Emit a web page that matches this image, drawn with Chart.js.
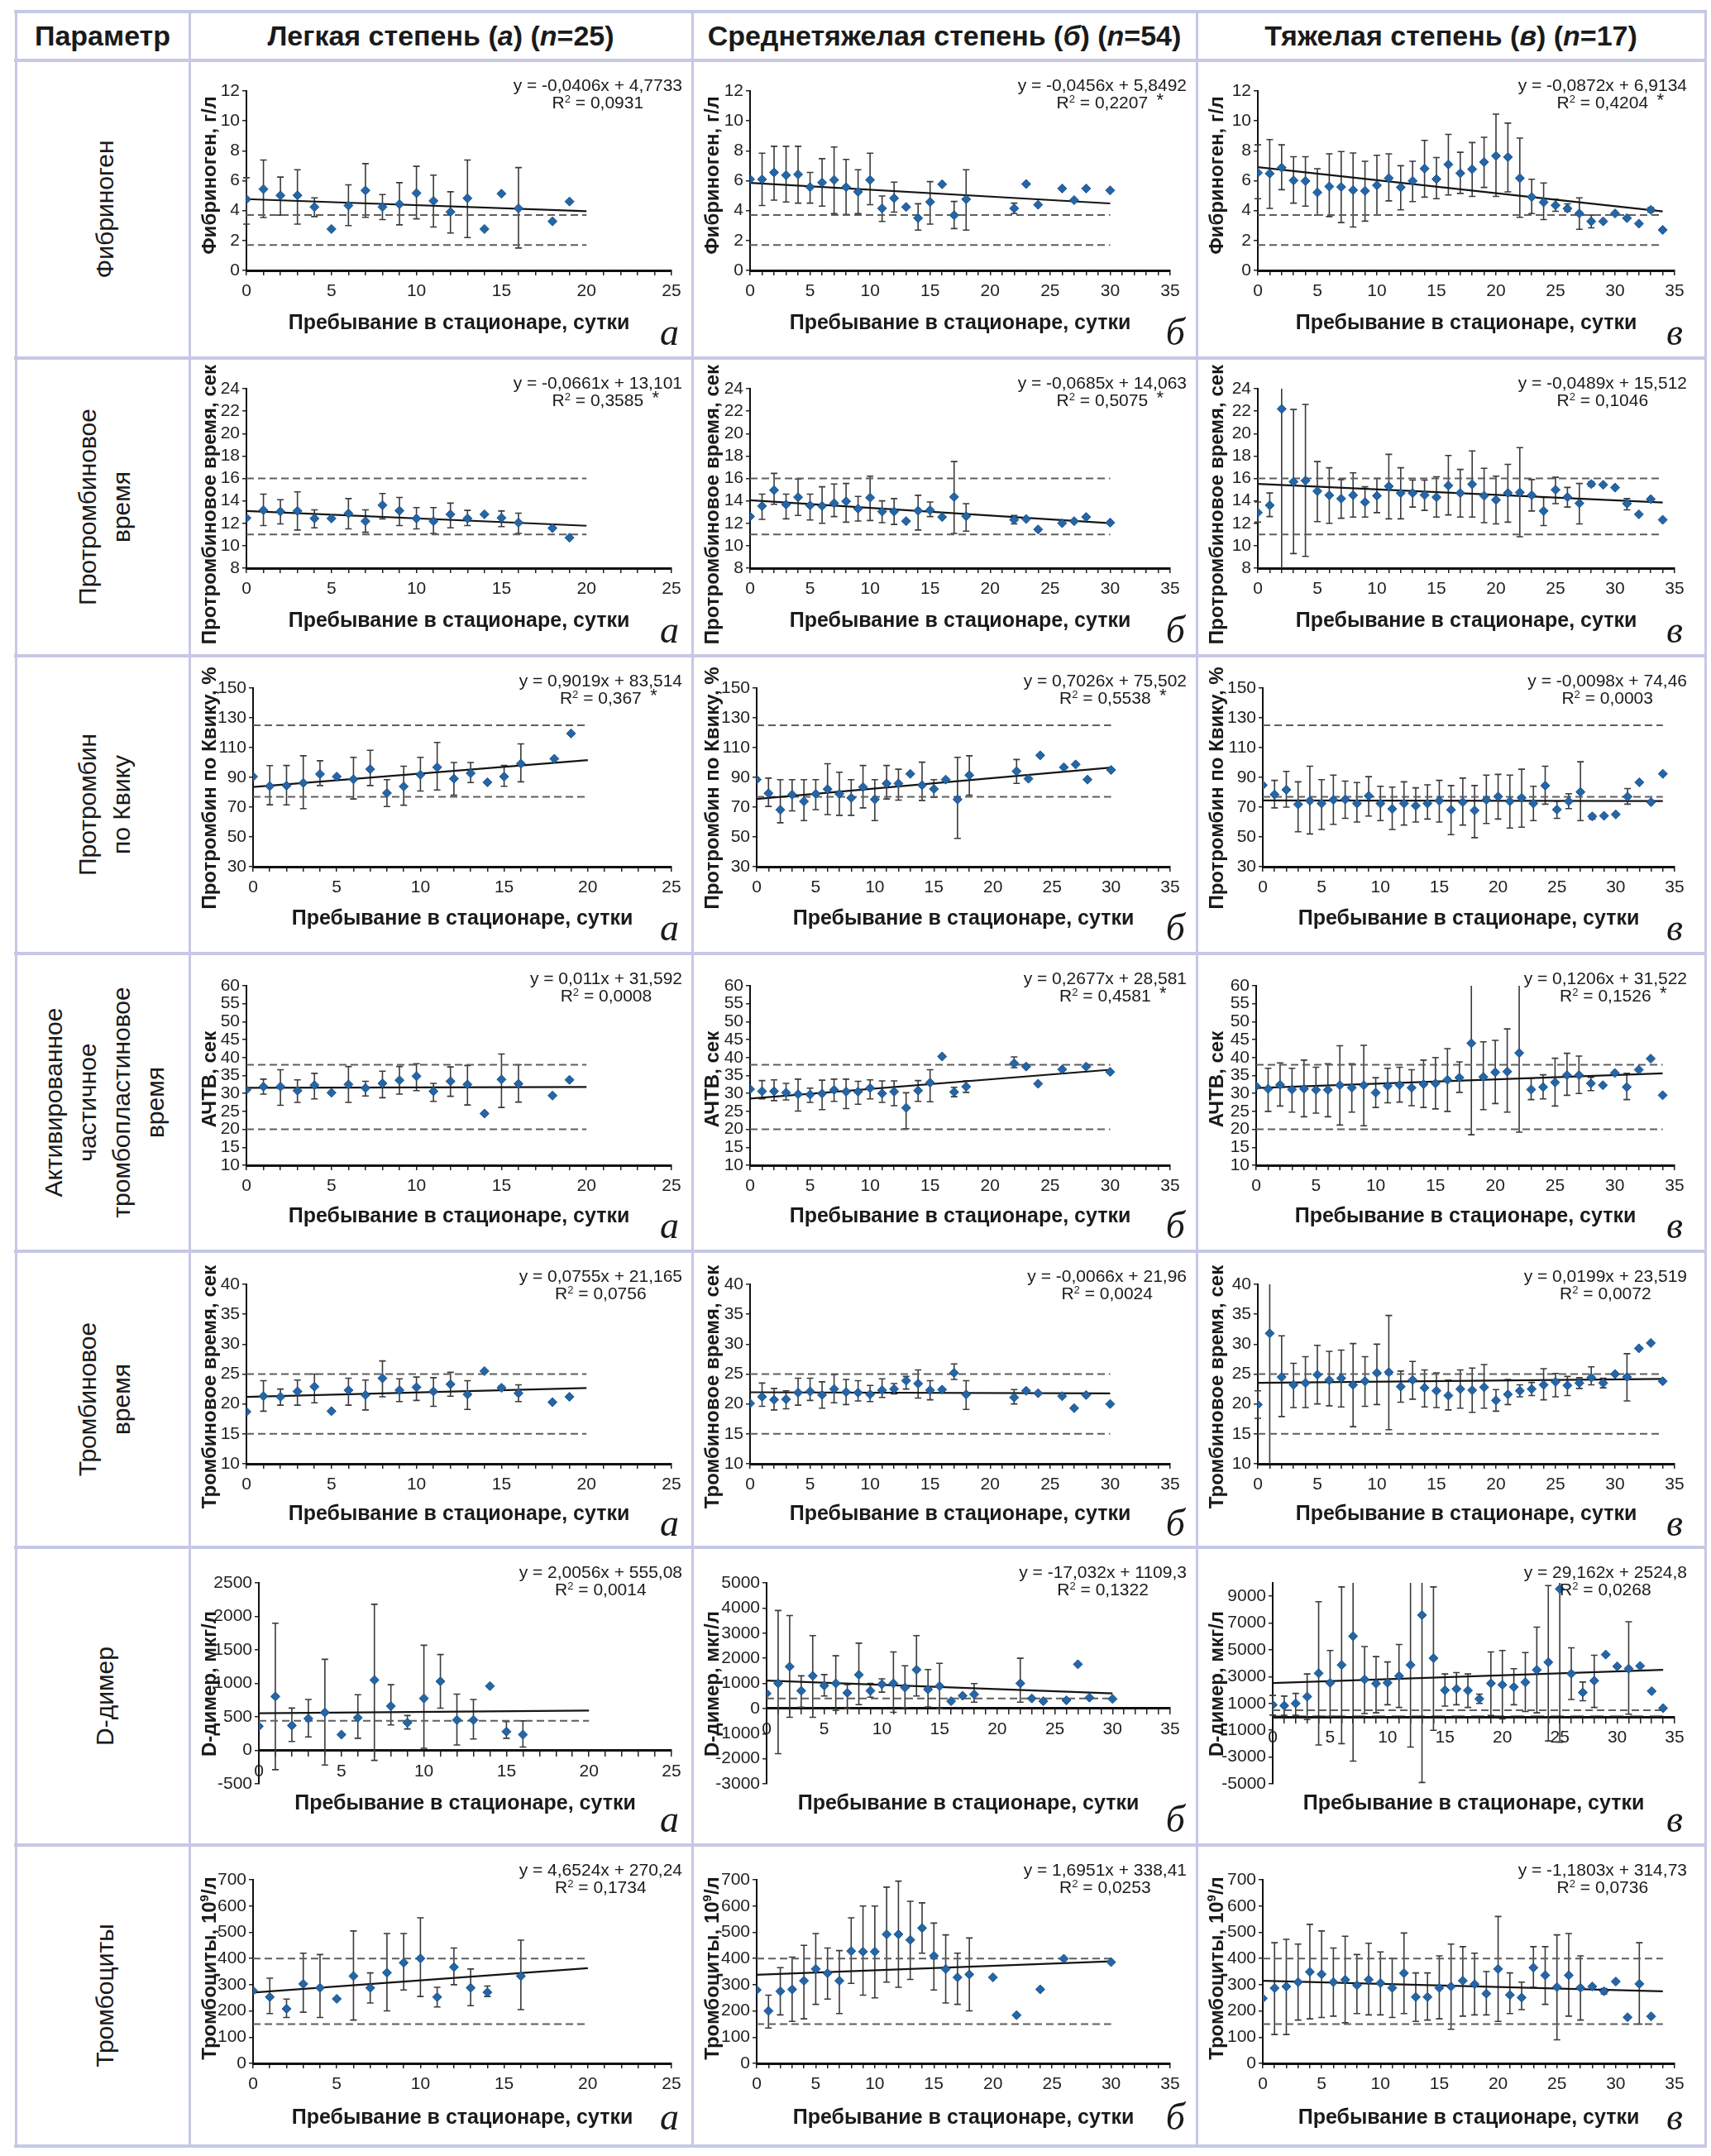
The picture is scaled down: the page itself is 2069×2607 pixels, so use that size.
<!DOCTYPE html>
<html lang="ru">
<head>
<meta charset="utf-8">
<title>Показатели гемостаза</title>
<script src="https://cdn.jsdelivr.net/npm/chart.js@4.4.1/dist/chart.umd.min.js"></script>
<style>
html,body{margin:0;padding:0;background:#fff}
body{width:2069px;height:2607px;position:relative;overflow:hidden;font-family:"Liberation Sans",Arial,Helvetica,sans-serif;color:#1a1a1a}
.ln{position:absolute;background:#c6c8e6;z-index:5}
.hdr{position:absolute;display:flex;align-items:center;justify-content:center;font-weight:bold;font-size:34px;white-space:nowrap;z-index:3}
.rl{position:absolute;transform:translate(-50%,-50%) rotate(-90deg);text-align:center;font-size:30px;line-height:41px;white-space:nowrap;z-index:3}
.cv{position:absolute;z-index:1}
.eq{position:absolute;font-size:21px;line-height:21px;text-align:center;white-space:nowrap;z-index:3}
.eq sup{font-size:13px;line-height:0;vertical-align:7px}
.eq .r2{position:relative;display:inline-block}
.eq .st{position:absolute;right:-19px;top:-3px;font-size:22px;line-height:22px}
.yt{position:absolute;transform:translate(-50%,-50%) rotate(-90deg);font-weight:bold;font-size:24px;white-space:nowrap;z-index:3}
.yt sup{font-size:15px;vertical-align:9px;line-height:0}
.lt{position:absolute;font-family:"Liberation Serif","Times New Roman",serif;font-style:italic;font-size:46px;line-height:46px;z-index:3}
</style>
</head>
<body>
<script>
// ---------------- DATA ----------------
// x = day in hospital (array index), null = no observation that day
const HEADERS = ['Параметр', 'Легкая степень (<i>а</i>) (<i>n</i>=25)', 'Среднетяжелая степень (<i>б</i>) (<i>n</i>=54)', 'Тяжелая степень (<i>в</i>) (<i>n</i>=17)'];
const ROW_LABELS = [['Фибриноген'], ['Протромбиновое', 'время'], ['Протромбин', 'по Квику'], ['Активированное', 'частичное', 'тромбопластиновое', 'время'], ['Тромбиновое', 'время'], ['D-димер'], ['Тромбоциты']];
const Y_TITLES = ['Фибриноген, г/л', 'Протромбиновое время, сек', 'Протромбин по Квику, %', 'АЧТВ, сек', 'Тромбиновое время, сек', 'D-димер, мкг/л', 'Тромбоциты, 10<sup>9</sup>/л'];
const X_TITLE = 'Пребывание в стационаре, сутки';
const PANEL_LETTERS = ['а', 'б', 'в'];
const X_MAX = [25, 35, 35];
const X_END = [20, 30, 34];

// Фибриноген
const FIB_A_MEAN = [4.76,5.44,5.02,5.02,4.24,2.77,4.34,5.35,4.24,4.43,5.17,4.65,3.91,4.83,2.77,5.13,4.15,null,3.28,4.61];
const FIB_A_LO   = [3.1,3.54,3.7,3.1,3.6,null,3.0,3.55,3.4,3.05,3.45,2.9,2.5,2.2,null,null,1.5];
const FIB_A_HI   = [6.2,7.38,6.24,6.73,4.85,null,5.72,7.14,5.07,5.87,6.96,6.37,5.26,7.38,null,null,6.88];
const FIB_B_MEAN = [6.09,6.09,6.55,6.37,6.42,5.57,5.87,6.05,5.57,5.26,6.05,4.15,4.83,4.24,3.5,4.58,5.76,3.69,4.76,null,null,null,4.15,5.78,4.39,null,5.48,4.7,5.48,null,5.35];
const FIB_B_LO   = [null,4.34,4.7,4.58,4.5,4.5,4.3,3.8,3.75,3.8,4.4,3.28,3.9,null,2.7,3.1,null,2.8,2.7,null,null,null,3.8];
const FIB_B_HI   = [null,7.84,8.3,8.3,8.3,6.55,7.47,8.25,7.42,6.73,7.84,4.98,5.9,null,4.46,5.94,null,4.61,6.73,null,null,null,4.5];
const FIB_C_MEAN = [6.53,6.48,6.87,6.02,5.98,5.21,5.61,5.58,5.37,5.32,5.69,6.17,5.56,5.98,6.81,6.11,7.09,6.5,6.77,7.25,7.66,7.58,6.17,4.91,4.56,4.36,4.14,3.81,3.28,3.28,3.81,3.5,3.13,4.05,2.71];
const FIB_C_LO   = [4.8,4.15,5.4,4.5,4.3,3.7,3.6,3.2,2.9,3.3,3.7,4.65,4.05,4.6,4.9,4.8,5.05,5.15,4.95,5.55,4.95,5.25,3.55,3.8,3.4,3.95,3.95,2.75,2.85,null,null,null,null,3.9];
const FIB_C_HI   = [8.4,8.75,8.4,7.6,7.6,6.8,7.8,7.95,7.85,7.3,7.7,7.8,7.0,7.3,8.7,7.55,9.1,7.9,8.55,8.9,10.45,9.85,8.85,6.1,5.85,4.75,4.45,4.85,3.7,null,null,null,null,4.2];
const FIB_TRENDS = [[4.77, 3.96], [5.85, 4.48], [6.91, 3.95]];
const FIB_REFS = [3.7, 1.7];
const FIB_Y_TICKS = [0, 2, 4, 6, 8, 10, 12];

// Протромбиновое время
const PT_A_MEAN = [12.48,13.17,13.05,13.1,12.43,12.43,12.88,12.19,13.62,13.12,12.43,12.19,12.8,12.43,12.8,12.48,12.06,null,11.57,10.71];
const PT_A_LO   = [null,11.8,11.95,11.4,11.6,null,11.5,11.2,12.4,11.8,11.5,11.1,11.6,11.8,null,11.7,11.1];
const PT_A_HI   = [null,14.6,14.1,14.8,13.2,null,14.2,13.2,14.65,14.3,13.4,13.4,13.8,13.15,null,13.1,12.9];
const PT_B_MEAN = [12.6,13.54,14.95,13.67,14.33,13.59,13.54,13.79,13.96,13.3,14.28,13.05,13.05,12.19,13.12,13.17,12.56,14.35,12.63,null,null,null,12.31,12.38,11.45,null,12.01,12.19,12.56,null,12.06];
const PT_B_LO   = [null,12.35,13.7,12.4,12.7,12.3,12.0,12.6,12.1,12.2,12.25,12.05,11.9,null,11.4,12.6,null,11.1,11.3,null,null,null,11.95];
const PT_B_HI   = [null,14.6,16.45,14.6,15.95,14.6,15.25,15.5,15.55,14.4,16.2,14.0,14.2,null,14.5,13.9,null,17.5,13.75,null,null,null,12.7];
const PT_C_MEAN = [12.95,13.6,22.2,15.7,15.8,14.86,14.5,14.2,14.5,13.88,14.45,15.3,14.7,14.7,14.52,14.33,15.36,14.7,15.48,14.45,14.08,14.7,14.75,14.5,13.1,14.99,14.33,13.78,15.5,15.43,15.18,13.76,12.8,14.15,12.31];
const PT_C_LO   = [12.1,12.6,6,9.3,9.05,12.15,12.0,12.45,12.55,12.55,12.95,12.4,12.4,13.45,13.15,12.55,12.75,12.55,12.55,12.05,11.95,12.1,10.8,13.1,11.8,13.75,13.45,11.95,15.3,null,null,13.2];
const PT_C_HI   = [13.9,14.7,26,22.15,22.6,17.5,16.95,15.9,16.5,15.25,16.0,18.15,16.95,15.85,15.85,16.15,18.05,16.8,18.45,16.9,16.2,17.25,18.75,15.9,14.3,16.1,15.2,15.55,15.7,null,null,14.2];
const PT_TRENDS = [[13.1, 11.78], [14.06, 12.01], [15.51, 13.85]];
const PT_REFS = [16, 11];
const PT_Y_TICKS = [8, 10, 12, 14, 16, 18, 20, 22, 24];

// Протромбин по Квику
const QK_A_MEAN = [90.5,84.1,84.5,86.3,92.2,90.5,88.7,95.5,79.5,83.9,91.8,96.8,89.1,92.8,86.7,90.5,99.2,null,102.5,119.5];
const QK_A_LO   = [null,71.6,71.5,69.0,84.5,null,75.5,84.5,70.4,71.3,80.8,81.5,78,86.5,null,84,87];
const QK_A_HI   = [null,97.9,98,104.5,101.2,null,103.5,108.2,88.5,97.5,103.5,113.5,100,100,null,98,112.5];
const QK_B_MEAN = [88.5,79.3,68.2,78.4,73.9,78.9,82.1,78.9,76.2,83.5,75.2,85.9,85.9,92.4,84.8,82.2,88.5,75.2,91.5,null,null,null,94.1,89.1,104.8,null,96.8,98.7,88.5,null,95];
const QK_B_LO   = [null,70.5,59.5,67.5,61,68.3,65,64.5,64.5,69.5,61,75.5,74.7,null,74.5,76.5,null,49,78,null,null,null,86];
const QK_B_HI   = [null,89.5,88.5,88.5,88.5,88.5,99.2,93.5,88.5,98,88.5,98,95.5,null,100.2,88.5,null,103.5,104.5,null,null,null,102];
const QK_C_MEAN = [84.8,78.5,81.7,71.9,74.3,72.5,74.9,75.2,72.5,77.6,72.5,68.8,72.5,71.0,72.5,74.3,68.2,73.4,67.8,74.9,77.1,73.9,76.2,72.5,84.5,68.4,73.9,80.2,63.8,64.2,65.1,77.1,86.7,73.4,92.4];
const QK_C_LO   = [null,69.5,70,53.5,52,55,58.5,62.5,60,64,61,55,58,60,62,60,51.5,58,49.5,59,62,56,56.5,61,72,62.5,69,61,62,null,null,72];
const QK_C_HI   = [null,88,94,87,97.5,88.5,91.5,87.5,86.5,90.5,84,83.5,87,83,85,88,84.5,89.5,84.5,91.5,92,91.5,95.5,84,97.5,74,79,100.5,65,null,null,82.5];
const QK_TRENDS = [[83.5, 101.6], [75.5, 96.6], [74.46, 74.13]];
const QK_REFS = [125, 77];
const QK_Y_TICKS = [30, 50, 70, 90, 110, 130, 150];

// АЧТВ
const AP_A_MEAN = [31.0,31.9,31.9,30.8,32.3,30.2,32.5,31.5,32.8,33.7,34.8,30.6,33.4,32.5,24.4,33.9,32.7,null,29.4,33.8];
const AP_A_LO   = [null,29.8,26.7,27.5,28.5,null,27.5,29.3,28.8,29.8,30.8,27.8,29.2,26.8,null,26.1,27.6];
const AP_A_HI   = [null,34.0,36.6,33.8,35.6,null,37.5,33.4,36.2,37.5,38.3,32.8,37.4,37.8,null,41,38];
const AP_B_MEAN = [31.2,30.6,30.6,30.2,29.8,29.7,30.0,31.0,30.5,30.5,31.5,30.0,30.5,26.0,30.8,33.0,40.3,30.4,31.9,null,null,null,38.4,37.5,32.7,null,36.7,null,37.5,null,36.0];
const AP_B_LO   = [null,28.5,28,28.2,25.1,27.5,25.5,27.8,25.8,27,28.5,27.5,26.6,20.2,27.8,27.7,null,29.1,30.3,null,null,null,37.2];
const AP_B_HI   = [null,33.6,33.8,32.8,34,31.5,33.7,34,34,33.4,33.8,33.5,33.5,30.2,33.6,36.6,null,31.7,33.5,null,null,null,40.2];
const AP_C_MEAN = [32.0,31.3,32.4,31.1,31.3,31.0,31.0,32.3,31.6,32.3,30.2,32.1,32.4,31.6,32.6,32.8,33.8,34.4,44.0,34.6,35.9,36.1,41.3,31.1,31.8,33.1,35.1,35.1,32.8,32.3,35.7,31.8,36.6,39.7,29.5];
const AP_C_LO   = [null,25,26.5,24.8,23.5,24.5,23.5,21.2,24.8,21,26.1,27.4,27.6,26.6,26.1,25.7,25,30.3,18.5,25.5,27.2,24.8,19.2,28.3,28.5,26.5,29.5,30,30.8,null,null,28.3];
const AP_C_HI   = [null,37,38.5,37,39.3,37.3,38.3,43.3,38.3,43.4,34.4,37,37.3,36.6,39.3,40,42.5,38.8,64,44.4,44.8,48,64,34.2,35.2,39.8,41.2,40.4,34.5,null,null,35.6];
const AP_TRENDS = [[31.59, 31.81], [28.58, 36.61], [31.52, 35.62]];
const AP_REFS = [38, 20];
const AP_Y_TICKS = [10, 15, 20, 25, 30, 35, 40, 45, 50, 55, 60];

// Тромбиновое время
const TT_A_MEAN = [18.7,21.3,21.2,22.1,22.9,18.8,22.3,21.5,24.3,22.3,22.8,22.1,23.3,21.6,25.5,22.7,21.8,null,20.3,21.2];
const TT_A_LO   = [null,18.8,19.8,19.8,20.2,null,19.8,19,21.2,20.4,20.6,19.6,21.3,19.1,null,22.3,20.4];
const TT_A_HI   = [null,23.9,22.5,24.0,25.0,null,24.3,24.0,27.2,24.2,24.5,24.4,25.3,23.9,null,23.0,23.2];
const TT_B_MEAN = [20.1,21.2,20.7,20.8,21.9,22.1,21.5,22.5,22.0,21.9,21.6,22.3,22.5,23.9,23.4,22.3,22.4,25.2,21.6,null,null,null,21.1,22.2,21.8,null,21.3,19.3,21.5,null,20.0];
const TT_B_LO   = [null,19.6,19,19.2,19.8,20.6,19.3,20.2,19.9,20.5,20.4,21.1,21.7,22.5,21,20.7,null,24.1,19.1,null,null,null,20];
const TT_B_HI   = [null,23.5,22.6,22.2,24.3,24.3,23.7,24.9,24.1,23.9,23.1,24.2,23.4,24.6,25.7,23.9,null,26.7,23.9,null,null,null,22.4];
const TT_C_MEAN = [19.9,31.8,24.5,23.2,23.5,24.9,24.0,24.3,23.2,23.8,25.2,25.3,22.9,24.0,22.7,22.2,21.4,22.5,22.3,22.8,20.6,21.6,22.2,22.5,23.2,23.7,23.1,23.5,24.4,23.5,25.0,24.5,29.3,30.2,23.8];
const TT_C_LO   = [17.6,8,17.9,19.4,19.4,20,19.7,19.5,16.2,19.6,19.9,15.7,20.3,20.8,19.5,19.4,19,19.3,18.6,19.3,18.8,19.9,21.2,21.4,20.7,21.2,21.4,22.6,23.2,22.7,null,20.5];
const TT_C_HI   = [22.2,42,31.4,26.8,27.9,29.8,28.8,29,30.1,27.9,30,34.8,25.5,27.1,25.7,25.2,24,25.7,26,26.6,22.4,24.1,23.2,23.6,25.9,25.1,24.6,24.4,26.2,24.3,null,28.4];
const TT_TRENDS = [[21.17, 22.68], [21.96, 21.76], [23.52, 24.2]];
const TT_REFS = [25, 15];
const TT_Y_TICKS = [10, 15, 20, 25, 30, 35, 40];

// D-димер
const DD_A_MEAN = [360,805,371,475,565,235,487,1050,660,412,776,1030,454,454,960,280,235];
const DD_A_LO   = [null,-289,132,200,-220,null,180,-150,380,320,30,630,80,170,null,180,50];
const DD_A_HI   = [null,1898,631,760,1360,null,830,2180,980,520,1570,1430,840,760,null,430,440];
const DD_B_MEAN = [595,1000,1670,705,1300,910,1000,620,1340,705,965,1000,835,1540,760,890,290,510,560,null,null,null,1000,400,290,null,325,1760,435,null,380];
const DD_B_LO   = [null,-1800,-350,50,-350,500,-80,0,150,450,650,-150,30,500,60,0,null,null,250,null,null,null,250];
const DD_B_HI   = [null,3900,3700,1300,2900,1350,2100,950,2600,1000,1180,2250,1700,2900,1550,1800,null,null,990,null,null,null,2000];
const DD_C_MEAN = [900,840,1000,1510,3250,2540,3870,6020,2790,2480,2540,3050,3870,7600,4380,1990,2090,1970,1350,2500,2390,2230,2580,3500,4080,9550,3220,1820,2700,4650,3770,3600,3800,1920,650];
const DD_C_LO   = [130,120,120,-200,-2100,40,-2000,-3300,250,300,900,700,-2250,-4900,-1000,800,900,700,1000,100,-150,900,400,300,-1800,-1900,1300,1200,700,null,null,200];
const DD_C_HI   = [1600,1550,1750,3200,8600,4950,9700,12000,5250,4500,4100,5400,12000,12000,9700,3200,3300,3200,1700,4850,4950,3600,4800,6700,9800,12000,5150,2600,4600,null,null,7100];
const DD_TRENDS = [[555, 595], [1109, 598], [2525, 3516]];
const DD_REFS = [[440], [400], [500]];
const DD_ZERO_DASH = [[], [], [0]];
const DD_Y_RANGE = [[-500, 2500], [-3000, 5000], [-5000, 10000]];
const DD_Y_TICKS = [[-500, 0, 500, 1000, 1500, 2000, 2500], [-3000, -2000, -1000, 0, 1000, 2000, 3000, 4000, 5000], [-5000, -3000, -1000, 1000, 3000, 5000, 7000, 9000]];

// Тромбоциты
const PL_A_MEAN = [277,253,208,303,288,246,333,288,346,384,400,253,367,288,271,null,333];
const PL_A_LO   = [null,190,175,195,175,null,165,230,200,280,255,215,300,220,255,null,205];
const PL_A_HI   = [null,325,245,420,415,null,505,345,495,495,555,290,440,360,295,null,470];
const PL_B_MEAN = [280,200,275,282,315,360,344,315,428,426,426,492,492,471,516,410,360,328,339,null,328,null,184,null,282,null,399,null,null,null,386];
const PL_B_LO   = [null,135,185,160,170,225,245,190,305,260,250,310,290,320,420,280,230,225,200];
const PL_B_HI   = [null,260,365,405,450,495,440,430,555,600,600,672,695,618,612,535,490,420,478];
const PL_C_MEAN = [248,287,293,310,349,340,310,319,298,319,306,288,344,253,253,288,293,315,302,266,360,261,251,365,336,291,336,288,293,275,312,176,303,179];
const PL_C_LO   = [null,110,110,165,170,175,180,155,190,185,185,175,190,160,165,170,130,180,185,185,160,190,205,290,225,90,180,165,null,265,null,null,150];
const PL_C_HI   = [null,460,473,455,530,505,440,485,415,458,425,400,497,345,345,410,455,445,420,350,560,345,310,445,445,490,495,410,null,285,null,null,460];
const PL_TRENDS = [[270, 363], [338, 389], [315, 275]];
const PL_REFS = [400, 150];
const PL_Y_TICKS = [0, 100, 200, 300, 400, 500, 600, 700];

const EQUATIONS = [
  [['y = -0,0406x + 4,7733', '0,0931', false], ['y = -0,0456x + 5,8492', '0,2207', true], ['y = -0,0872x + 6,9134', '0,4204', true]],
  [['y = -0,0661x + 13,101', '0,3585', true], ['y = -0,0685x + 14,063', '0,5075', true], ['y = -0,0489x + 15,512', '0,1046', false]],
  [['y = 0,9019x + 83,514', '0,367', true], ['y = 0,7026x + 75,502', '0,5538', true], ['y = -0,0098x + 74,46', '0,0003', false]],
  [['y = 0,011x + 31,592', '0,0008', false], ['y = 0,2677x + 28,581', '0,4581', true], ['y = 0,1206x + 31,522', '0,1526', true]],
  [['y = 0,0755x + 21,165', '0,0756', false], ['y = -0,0066x + 21,96', '0,0024', false], ['y = 0,0199x + 23,519', '0,0072', false]],
  [['y = 2,0056x + 555,08', '0,0014', false], ['y = -17,032x + 1109,3', '0,1322', false], ['y = 29,162x + 2524,8', '0,0268', false]],
  [['y = 4,6524x + 270,24', '0,1734', false], ['y = 1,6951x + 338,41', '0,0253', false], ['y = -1,1803x + 314,73', '0,0736', false]]
];

// ---------------- LAYOUT ----------------
const FONT = '"Liberation Sans", Arial, Helvetica, sans-serif';
const COLS = [19, 229, 837, 1447, 2062];
const ROWS = [14, 73, 433, 793, 1153, 1513, 1871, 2231, 2595];
const PLOT_RIGHT = [812, 1415, 2025];
const PLOT_LEFT = [
  [298, 907, 1521], [298, 907, 1521], [306, 915, 1527], [298, 907, 1519],
  [298, 907, 1521], [313, 927, 1539], [306, 915, 1527]
];
const ROW_LAYOUT = [
  {top: 37, bottom: 254, titleC: 318, yc: 139},
  {top: 37, bottom: 254, titleC: 318, yc: 177},
  {top: 39, bottom: 255, titleC: 318, yc: 160},
  {top: 39, bottom: 256, titleC: 318, yc: 152},
  {top: 40, bottom: 257, titleC: 318, yc: 164},
  {top: 43, bottom: 286, titleC: 310, yc: 165, zeroAxis: true},
  {top: 42, bottom: 264, titleC: 330, yc: 149}
];
const EQ_RIGHT = [825, 1435, 2040];
const LETTER_RIGHT = [821, 1433, 2035];

// ---------------- BUILD ----------------
Chart.defaults.font.family = FONT;
Chart.defaults.color = '#1f1f1f';
Chart.defaults.animation = false;

function el(cls, html, style) {
  const d = document.createElement('div');
  d.className = cls;
  if (html != null) d.innerHTML = html;
  Object.assign(d.style, style || {});
  document.body.appendChild(d);
  return d;
}

// table lines
for (let i = 0; i < ROWS.length; i++) {
  el('ln', null, {left: (COLS[0] - 2) + 'px', top: (ROWS[i] - 2) + 'px', width: (COLS[4] - COLS[0] + 4) + 'px', height: '4px'});
}
for (let j = 0; j < COLS.length; j++) {
  el('ln', null, {left: (COLS[j] - 1.5) + 'px', top: ROWS[0] + 'px', width: '3px', height: (ROWS[8] - ROWS[0]) + 'px'});
}
// header
HEADERS.forEach((h, j) => {
  el('hdr', h, {left: COLS[j] + 'px', top: ROWS[0] + 'px', width: (COLS[j + 1] - COLS[j]) + 'px', height: (ROWS[1] - ROWS[0]) + 'px'});
});
// row labels
ROW_LABELS.forEach((lines, r) => {
  el('rl', lines.join('<br>'), {left: ((COLS[0] + COLS[1]) / 2 + 2) + 'px', top: ((ROWS[r + 1] + ROWS[r + 2]) / 2) + 'px'});
});

function errorBarPlugin(lo, hi) {
  return {
    id: 'errbars',
    beforeDatasetsDraw(chart) {
      const {ctx, chartArea: a, scales: {x, y}} = chart;
      ctx.save();
      ctx.beginPath();
      ctx.rect(a.left - 10, a.top, a.right - a.left + 20, a.bottom - a.top);
      ctx.clip();
      ctx.strokeStyle = '#3a3a3a';
      ctx.lineWidth = 1.6;
      for (let i = 0; i < lo.length; i++) {
        if (lo[i] == null || hi[i] == null) continue;
        const px = x.getPixelForValue(i), p1 = y.getPixelForValue(lo[i]), p2 = y.getPixelForValue(hi[i]);
        ctx.beginPath();
        ctx.moveTo(px, p1); ctx.lineTo(px, p2);
        ctx.moveTo(px - 4, p1); ctx.lineTo(px + 4, p1);
        ctx.moveTo(px - 4, p2); ctx.lineTo(px + 4, p2);
        ctx.stroke();
      }
      ctx.restore();
    }
  };
}

function makePanel(r, c, d) {
  const cellL = COLS[c + 1], cellR = COLS[c + 2];
  const top = ROWS[r + 1], H = ROWS[r + 2] - ROWS[r + 1];
  const W = cellR - cellL;
  const lay = ROW_LAYOUT[r];
  const yw = PLOT_LEFT[r][c] - cellL;
  const pr = cellR - PLOT_RIGHT[c];
  const lh = 30;
  const pb = H - lay.titleC - lh / 2;
  let pt = 4, xh = 0;
  if (lay.zeroAxis) pt = (lay.titleC - lh / 2) - lay.bottom;
  else xh = H - pb - lay.bottom - (lh + pt);

  const cv = document.createElement('canvas');
  cv.className = 'cv';
  cv.width = W; cv.height = H;
  cv.style.left = cellL + 'px'; cv.style.top = top + 'px';
  cv.style.width = W + 'px'; cv.style.height = H + 'px';
  document.body.appendChild(cv);

  const xEnd = X_END[c];
  const pts = [];
  d.mean.forEach((v, i) => { if (v != null) pts.push({x: i, y: v}); });
  const datasets = [
    {data: pts, pointStyle: 'rectRot', pointRadius: 5.5, backgroundColor: '#2466a8', borderColor: '#1b4f85', borderWidth: 1, showLine: false, order: 0},
    {data: [{x: 0, y: d.trend[0]}, {x: xEnd, y: d.trend[1]}], showLine: true, borderColor: '#151515', borderWidth: 2.2, pointRadius: 0, order: 1}
  ];
  d.refs.forEach(v => datasets.push({data: [{x: 0, y: v}, {x: xEnd, y: v}], showLine: true, borderColor: '#5e5e5e', borderWidth: 2, borderDash: [9, 5], pointRadius: 0, order: 2}));
  (d.darkRefs || []).forEach(v => datasets.push({data: [{x: 0, y: v}, {x: xEnd, y: v}], showLine: true, borderColor: '#1a1a1a', borderWidth: 3, borderDash: [16, 8], pointRadius: 0, order: 2}));

  const xTicks = [];
  for (let i = 0; i <= X_MAX[c]; i++) xTicks.push(i);

  new Chart(cv, {
    type: 'scatter',
    data: {datasets},
    options: {
      responsive: false,
      animation: false,
      devicePixelRatio: 1,
      events: [],
      layout: {padding: {top: lay.top, right: pr, bottom: pb, left: 0}},
      plugins: {
        legend: {display: false},
        tooltip: {enabled: false},
        title: {display: true, text: X_TITLE, position: 'bottom', fullSize: false, color: '#1a1a1a',
          font: {size: 25, weight: 'bold', family: FONT, lineHeight: 1.2}, padding: {top: pt, bottom: 0}}
      },
      scales: {
        x: {
          type: 'linear', min: 0, max: X_MAX[c],
          position: lay.zeroAxis ? {y: 0} : 'bottom',
          afterBuildTicks: s => { s.ticks = xTicks.map(v => ({value: v})); },
          afterFit: s => { if (!lay.zeroAxis) s.height = xh; },
          ticks: {autoSkip: false, maxRotation: 0, padding: 7, color: '#1f1f1f', font: {size: 21, family: FONT},
            callback: v => (v % 5 === 0 ? String(v) : '')},
          grid: {drawOnChartArea: false, drawTicks: true, tickLength: 6, color: '#222', lineWidth: 1.5},
          border: {display: true, color: '#111', width: 3}
        },
        y: {
          type: 'linear', min: d.yMin, max: d.yMax,
          afterBuildTicks: s => { s.ticks = d.yTicks.map(v => ({value: v})); },
          afterFit: s => { s.width = yw; },
          ticks: {autoSkip: false, padding: 3, color: '#1f1f1f', font: {size: 21, family: FONT}, callback: v => String(v)},
          grid: {drawOnChartArea: false, drawTicks: true, tickLength: 5, color: '#222', lineWidth: 1.5},
          border: {display: true, color: '#111', width: 2}
        }
      }
    },
    plugins: [errorBarPlugin(d.lo, d.hi)]
  });

  // y title
  el('yt', Y_TITLES[r], {left: (cellL + 24) + 'px', top: (top + lay.yc) + 'px'});
  // regression equation
  const eq = EQUATIONS[r][c];
  el('eq', eq[0] + '<br><span class="r2">R<sup>2</sup> = ' + eq[1] + (eq[2] ? '<span class="st">*</span>' : '') + '</span>',
    {right: (2069 - EQ_RIGHT[c]) + 'px', top: (top + 18.5) + 'px'});
  // panel letter
  el('lt', PANEL_LETTERS[c], {right: (2069 - LETTER_RIGHT[c]) + 'px', top: (top + 306) + 'px'});
}

const ROW_DATA = [
  [[FIB_A_MEAN, FIB_A_LO, FIB_A_HI], [FIB_B_MEAN, FIB_B_LO, FIB_B_HI], [FIB_C_MEAN, FIB_C_LO, FIB_C_HI]],
  [[PT_A_MEAN, PT_A_LO, PT_A_HI], [PT_B_MEAN, PT_B_LO, PT_B_HI], [PT_C_MEAN, PT_C_LO, PT_C_HI]],
  [[QK_A_MEAN, QK_A_LO, QK_A_HI], [QK_B_MEAN, QK_B_LO, QK_B_HI], [QK_C_MEAN, QK_C_LO, QK_C_HI]],
  [[AP_A_MEAN, AP_A_LO, AP_A_HI], [AP_B_MEAN, AP_B_LO, AP_B_HI], [AP_C_MEAN, AP_C_LO, AP_C_HI]],
  [[TT_A_MEAN, TT_A_LO, TT_A_HI], [TT_B_MEAN, TT_B_LO, TT_B_HI], [TT_C_MEAN, TT_C_LO, TT_C_HI]],
  [[DD_A_MEAN, DD_A_LO, DD_A_HI], [DD_B_MEAN, DD_B_LO, DD_B_HI], [DD_C_MEAN, DD_C_LO, DD_C_HI]],
  [[PL_A_MEAN, PL_A_LO, PL_A_HI], [PL_B_MEAN, PL_B_LO, PL_B_HI], [PL_C_MEAN, PL_C_LO, PL_C_HI]]
];
const ROW_TRENDS = [FIB_TRENDS, PT_TRENDS, QK_TRENDS, AP_TRENDS, TT_TRENDS, DD_TRENDS, PL_TRENDS];
const ROW_REFS = [FIB_REFS, PT_REFS, QK_REFS, AP_REFS, TT_REFS, null, PL_REFS];
const ROW_YTICKS = [FIB_Y_TICKS, PT_Y_TICKS, QK_Y_TICKS, AP_Y_TICKS, TT_Y_TICKS, null, PL_Y_TICKS];

for (let r = 0; r < 7; r++) {
  for (let c = 0; c < 3; c++) {
    const [mean, lo, hi] = ROW_DATA[r][c];
    let yTicks, yMin, yMax, refs, darkRefs = [];
    if (r === 5) {
      yTicks = DD_Y_TICKS[c]; yMin = DD_Y_RANGE[c][0]; yMax = DD_Y_RANGE[c][1];
      refs = DD_REFS[c]; darkRefs = DD_ZERO_DASH[c];
    } else {
      yTicks = ROW_YTICKS[r]; yMin = yTicks[0]; yMax = yTicks[yTicks.length - 1]; refs = ROW_REFS[r];
    }
    makePanel(r, c, {mean, lo, hi, trend: ROW_TRENDS[r][c], refs, darkRefs, yTicks, yMin, yMax});
  }
}
</script>
</body>
</html>
